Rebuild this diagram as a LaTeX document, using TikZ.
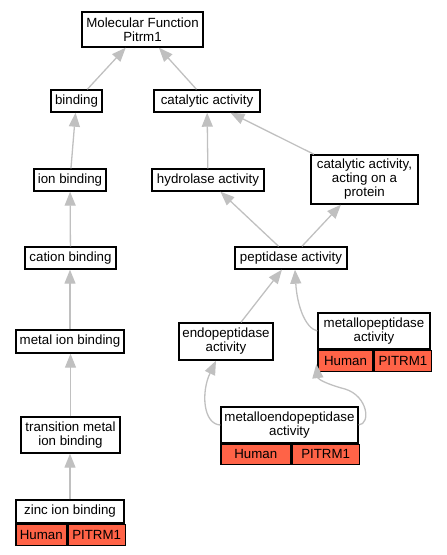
\documentclass[tikz,border=0pt]{standalone}
\usepackage{fontspec}
\setmainfont{Liberation Sans}
\usepackage{tikz}
\usetikzlibrary{calc}
\usetikzlibrary{arrows.meta}

\definecolor{tomate}{RGB}{255,99,71}
\definecolor{cinza}{RGB}{192,192,192}

\begin{document}
\begin{tikzpicture}[
      x=1pt, y=-1pt,
      termo/.style={draw, line width=1.4pt, fill=white, align=center, inner sep=0pt,
        font=\fontsize{13.3}{14}\selectfont},
      gene/.style={termo, fill=tomate, minimum height=21pt},
      aresta/.style={draw=cinza, line width=1.3pt, -{Triangle[length=14pt,width=11pt]}}
    ]
    \useasboundingbox (0,0) rectangle (447,555);
    % Termos
    \node[termo, minimum width=121pt, minimum height=35pt] (mf) at (142.5,29.5) {Molecular Function\\Pitrm1};
    \node[termo, minimum width=51pt, minimum height=22pt] (bind) at (76.5,101) {binding};
    \node[termo, minimum width=106pt, minimum height=22pt] (cat) at (207,101) {catalytic activity};
    \node[termo, minimum width=72pt, minimum height=22pt] (ion) at (70,180) {ion binding};
    \node[termo, minimum width=112pt, minimum height=22pt] (hydro) at (208,180) {hydrolase activity};
    \node[termo, minimum width=107pt, minimum height=49pt] (catprot) at (364.5,179.5) {catalytic activity,\\acting on a\\protein};
    \node[termo, minimum width=91pt, minimum height=22pt] (cation) at (70.5,258) {cation binding};
    \node[termo, minimum width=112pt, minimum height=22pt] (pept) at (291,258) {peptidase activity};
    \node[termo, minimum width=108pt, minimum height=23pt] (metal) at (70,341.5) {metal ion binding};
    \node[termo, minimum width=94pt, minimum height=37pt] (endo) at (226,341.5) {endopeptidase\\activity};
    \node[termo, minimum width=99pt, minimum height=36pt] (trans) at (70.5,435) {transition metal\\ion binding};
    % Termos com genes
    \node[termo, minimum width=112pt, minimum height=36pt] (mpept) at (374,331) {metallopeptidase\\activity};
    \node[gene, anchor=north west, minimum width=55pt] (mpeptH) at (mpept.south west) {Human};
    \node[gene, anchor=north west, minimum width=57pt] (mpeptP) at (mpeptH.north east) {PITRM1};
    \node[termo, minimum width=137pt, minimum height=36pt] (mendo) at (289.5,425) {metalloendopeptidase\\activity};
    \node[gene, anchor=north west, minimum width=69.5pt, minimum height=20pt] (mendoH) at (mendo.south west) {Human};
    \node[gene, anchor=north west, minimum width=67.5pt, minimum height=20pt] (mendoP) at (mendoH.north east) {PITRM1};
    \node[termo, minimum width=108pt, minimum height=23pt] (zinc) at (70,511.5) {zinc ion binding};
    \node[gene, anchor=north west, minimum width=50.5pt] (zincH) at (zinc.south west) {Human};
    \node[gene, anchor=north west, minimum width=57.5pt] (zincP) at (zincH.north east) {PITRM1};
    % Arestas
    \draw[aresta] (bind) -- (mf);
    \draw[aresta] (cat) -- (mf);
    \draw[aresta] (ion) -- (bind);
    \draw[aresta] (hydro) -- (cat);
    \draw[aresta] (catprot) -- (cat);
    \draw[aresta] (cation) -- (ion);
    \draw[aresta] (pept) -- (hydro);
    \draw[aresta] (pept) -- (catprot);
    \draw[aresta] (metal.north) -- (cation.south -| metal.north);
    \draw[aresta] (endo) -- (pept);
    \draw[aresta] (trans.north) -- (metal.south -| trans.north);
    \draw[aresta] (zinc.north) -- (trans.south -| zinc.north);
    \draw[aresta] (mpept.west) .. controls (305,328) and (297,305) .. ([xshift=4pt]pept.south);
    \draw[aresta] (mendo.west) .. controls (203,424) and (201,392) .. ([xshift=-10pt]endo.south);
    \draw[aresta] (mendo.east) .. controls (371,424) and (368,396) .. (345,389)
      .. controls (326,384) and (318,379) .. ([xshift=-1pt,yshift=8pt]mpeptH.south west);
  \end{tikzpicture}
\end{document}
